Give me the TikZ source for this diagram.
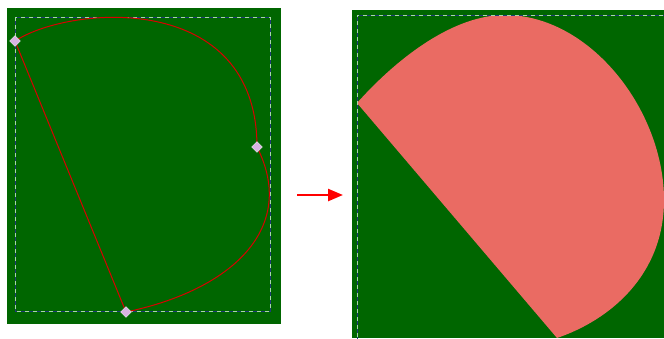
\documentclass[tikz,border=0pt]{standalone}
\usetikzlibrary{arrows.meta, shapes.geometric}
\definecolor{leafgreen}{HTML}{006600}
\definecolor{salmon}{HTML}{EA6B63}
\definecolor{handlefill}{HTML}{D8B4E2}
\definecolor{dashblue}{HTML}{1F3A78}
\definecolor{dashlight}{HTML}{A8D8A8}

\begin{document}
\begin{tikzpicture}[x=1pt, y=-1pt, >=Triangle,
  panel/.style={fill=leafgreen, draw=none},
  guide/.style={draw=dashblue, line width=0.8pt, postaction={draw=dashlight, dash pattern=on 4pt off 4pt, line width=0.8pt}},
  outline/.style={draw=red!85!black, line width=1pt},
  handle/.style={draw=white!85!gray, fill=handlefill, diamond, minimum size=11pt, inner sep=0pt, line width=0.4pt},
  shape fill/.style={fill=salmon, draw=none}]

  \useasboundingbox (0,0) rectangle (664,338);

  \fill [panel] (7,8) rectangle (281,324);
  \draw [guide] (15,17) rectangle (270,311);

  \coordinate (a) at (15,41);
  \coordinate (b) at (257,147);
  \coordinate (c) at (126,312);

  \draw [outline] (a) .. controls (70,5) and (257,-10) .. (b)
    .. controls (298,228) and (232,290) .. (c) -- cycle;

  \node [handle] (ha) at (a) {};
  \node [handle] (hb) at (b) {};
  \node [handle] (hc) at (c) {};

  \fill [panel] (352,10) rectangle (664,338);
  \begin{scope}
    \clip (352,10) rectangle (664,338);
    \coordinate (p) at (357,103);
    \coordinate (t) at (505,15);
    \coordinate (r) at (664,200);
    \coordinate (q) at (557,338);
    \fill [shape fill] (p) .. controls (400,55) and (455,15) .. (t)
      .. controls (590,15) and (664,110) .. (r)
      .. controls (664,275) and (610,320) .. (q) -- cycle;
    \draw [guide] (357,345) -- (357,15) -- (670,15);
  \end{scope}

  \coordinate (from) at (297,195);
  \coordinate (to) at (343,195);
  \draw [->, red, line width=2.4pt, arrows={-Triangle[length=15pt, width=12pt]}] (from) -- (to);
\end{tikzpicture}
\end{document}
